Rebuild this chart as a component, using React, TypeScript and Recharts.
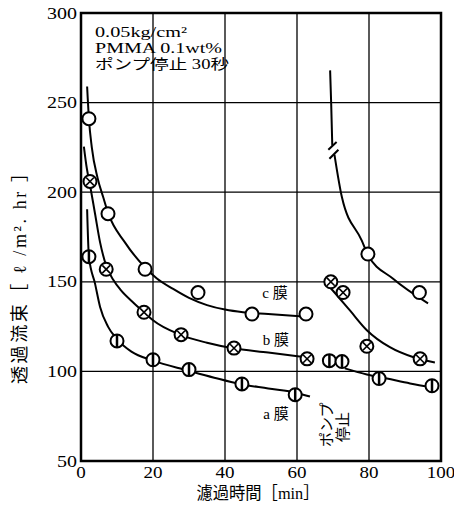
import {
  ComposedChart,
  Line,
  Scatter,
  XAxis,
  YAxis,
  CartesianGrid,
  ReferenceArea,
  ReferenceLine,
} from "recharts";

const xTicks = [0, 20, 40, 60, 80, 100];
const yTicks = [50, 100, 150, 200, 250, 300];

// measured points: c膜 (○), b膜 (⊗), a膜 (⦶)
const cTime = [2.2, 7.5, 17.8, 32.5, 47.5, 62.5, 79.7, 94];
const cFlux = [241, 188, 157, 144, 132, 132, 165.5, 144];
const bTime = [2.5, 7, 17.5, 27.8, 42.5, 62.8, 69.4, 72.8, 79.4, 94.2];
const bFlux = [206, 157, 133, 120.5, 113, 107, 150, 144, 114, 107];
const aTime = [2.2, 10, 20, 30, 44.7, 59.5, 69, 72.5, 82.8, 97.5];
const aFlux = [164, 117, 106.5, 101, 93, 87, 106, 105.5, 96, 92];

// hand-drawn curves
const c1T = [1.7, 2.2, 3, 4.6, 6.2, 7.6, 12.2, 17.8, 21, 25.6, 30, 35, 40, 45, 52, 62.7];
const c1F = [259, 241, 225, 208, 197, 188, 172, 158, 152, 146, 141, 137, 134.5, 133, 132, 130.5];
const c2UpT = [69.2, 69.5, 69.8];
const c2UpF = [268, 249, 226];
const c2LoT = [70.4, 72.5, 78, 79.6, 86.7, 96.4];
const c2LoF = [221, 197, 173, 165.5, 151.7, 138];
const b1T = [0.8, 1.6, 2.5, 3.9, 5.3, 7, 9, 11, 14.5, 17.5, 20, 27.5, 35, 42, 52, 62.7];
const b1F = [225.5, 213.5, 204, 188, 172, 159, 151, 145.5, 138.5, 133, 128.5, 120.5, 116, 113, 110.5, 107.8];
const b2T = [67.8, 70, 74.7, 79.4, 85.8, 92.2, 98.3];
const b2F = [150, 145, 134, 123, 113.5, 108, 105];
const a1T = [1.7, 2.2, 3.9, 5.3, 7.5, 10, 14, 20, 29.7, 37, 44, 52, 60, 63.6];
const a1F = [190.5, 164, 149, 136, 125, 118, 111, 106, 100.5, 96.5, 93, 90.5, 88, 86];
const a2T = [73.3, 79.4, 85, 91.4, 97.5];
const a2F = [101.7, 98.3, 96, 93.3, 91];

// "//" break mark on the c膜 curve after the pump stop
const breakMarks = [
  [{ x: 68.7, y: 223.7 }, { x: 71.0, y: 228 }],
  [{ x: 69.0, y: 218.7 }, { x: 71.5, y: 223.7 }],
];

const zip = (t: number[], f: number[]) => t.map((v, i) => ({ t: v, f: f[i] }));

const FONT = '"Liberation Serif", "Times New Roman", "DejaVu Serif", "Noto Sans CJK JP"';
const R = 6.5;

const OpenMark = (p: any) => (
  <circle cx={p.cx} cy={p.cy} r={R} fill="#fff" stroke="#000" strokeWidth={2} />
);
const CrossMark = (p: any) => {
  const d = R * 0.6;
  return (
    <g stroke="#000" strokeWidth={1.6}>
      <circle cx={p.cx} cy={p.cy} r={R} fill="#fff" strokeWidth={2} />
      <line x1={p.cx - d} y1={p.cy - d} x2={p.cx + d} y2={p.cy + d} />
      <line x1={p.cx - d} y1={p.cy + d} x2={p.cx + d} y2={p.cy - d} />
    </g>
  );
};
const BarMark = (p: any) => (
  <g stroke="#000">
    <circle cx={p.cx} cy={p.cy} r={R} fill="#fff" strokeWidth={2} />
    <line x1={p.cx} y1={p.cy - R} x2={p.cx} y2={p.cy + R} strokeWidth={2.5} />
  </g>
);

const curves = [
  zip(c1T, c1F),
  zip(c2UpT, c2UpF),
  zip(c2LoT, c2LoF),
  zip(b1T, b1F),
  zip(b2T, b2F),
  zip(a1T, a1F),
  zip(a2T, a2F),
];

// scanned digits are a bit wider than plain Times, so stretch them
const XTick = (p: any) => {
  const s = String(p.payload.value);
  return (
    <text
      x={p.x}
      y={p.y + 12}
      textAnchor="middle"
      fontSize={16.5}
      fontFamily={FONT}
      fill="#000"
      textLength={s.length * 9.5}
      lengthAdjust="spacingAndGlyphs"
    >
      {s}
    </text>
  );
};
const YTick = (p: any) => {
  const s = String(p.payload.value);
  return (
    <text
      x={p.x}
      y={p.y + 5.5}
      textAnchor="end"
      fontSize={16.5}
      fontFamily={FONT}
      fill="#000"
      textLength={s.length * 10}
      lengthAdjust="spacingAndGlyphs"
    >
      {s}
    </text>
  );
};

export default function App() {
  return (
    <div
      style={{
        position: "absolute",
        left: 0,
        top: 0,
        width: 454,
        height: 517,
        background: "#fff",
        fontFamily: FONT,
      }}
    >
      <ComposedChart
        width={454}
        height={517}
        margin={{ top: 13, right: 13, left: 0, bottom: 0 }}
      >
        <CartesianGrid stroke="#000" strokeWidth={1.3} />
        <XAxis
          dataKey="t"
          type="number"
          domain={[0, 100]}
          ticks={xTicks}
          height={56}
          axisLine={false}
          tickLine={false}
          tickSize={0}
          tickMargin={5}
          tick={<XTick />}
        />
        <YAxis
          dataKey="f"
          type="number"
          domain={[50, 300]}
          ticks={yTicks}
          width={81}
          axisLine={false}
          tickLine={false}
          tickSize={0}
          tickMargin={4}
          tick={<YTick />}
        />
        <ReferenceArea
          x1={0}
          x2={100}
          y1={50}
          y2={300}
          fill="none"
          fillOpacity={0}
          stroke="#000"
          strokeWidth={2.5}
          ifOverflow="visible"
        />
        {curves.map((d, i) => (
          <Line
            key={i}
            data={d}
            dataKey="f"
            type="monotone"
            stroke="#000"
            strokeWidth={2}
            dot={false}
            activeDot={false}
            isAnimationActive={false}
          />
        ))}
        {breakMarks.map((s, i) => (
          <ReferenceLine key={i} segment={s} stroke="#000" strokeWidth={2} ifOverflow="visible" />
        ))}
        <Scatter data={zip(cTime, cFlux)} dataKey="f" shape={OpenMark} isAnimationActive={false} />
        <Scatter data={zip(bTime, bFlux)} dataKey="f" shape={CrossMark} isAnimationActive={false} />
        <Scatter data={zip(aTime, aFlux)} dataKey="f" shape={BarMark} isAnimationActive={false} />
      </ComposedChart>
      <svg
        width={454}
        height={517}
        style={{ position: "absolute", left: 0, top: 0, pointerEvents: "none", fontFamily: FONT }}
        fill="#000"
      >
        <text x={95} y={37} fontSize={14} textLength={92} lengthAdjust="spacingAndGlyphs">0.05kg/cm²</text>
        <text x={95} y={53} fontSize={14} textLength={127} lengthAdjust="spacingAndGlyphs">PMMA 0.1wt%</text>
        <text x={95} y={69} fontSize={14} textLength={134} lengthAdjust="spacingAndGlyphs">ポンプ停止 30秒</text>
        <text x={275} y={293} fontSize={15} textAnchor="middle" dominantBaseline="central">c 膜</text>
        <text x={276} y={340} fontSize={15} textAnchor="middle" dominantBaseline="central">b 膜</text>
        <text x={276} y={414} fontSize={15} textAnchor="middle" dominantBaseline="central">a 膜</text>
        <text transform="translate(327,447) rotate(-90)" fontSize={15} dominantBaseline="central">ポンプ</text>
        <text transform="translate(343,442) rotate(-90)" fontSize={15} dominantBaseline="central">停止</text>
        <text x={258} y={499} fontSize={17} textAnchor="middle" textLength={123} lengthAdjust="spacingAndGlyphs">
          濾過時間［min］
        </text>
        <text
          transform="translate(20,274) rotate(-90)"
          fontSize={18}
          textAnchor="middle"
          dominantBaseline="central"
          textLength={220}
        >
          透過流束［ ℓ /m². hr ］
        </text>
      </svg>
    </div>
  );
}
